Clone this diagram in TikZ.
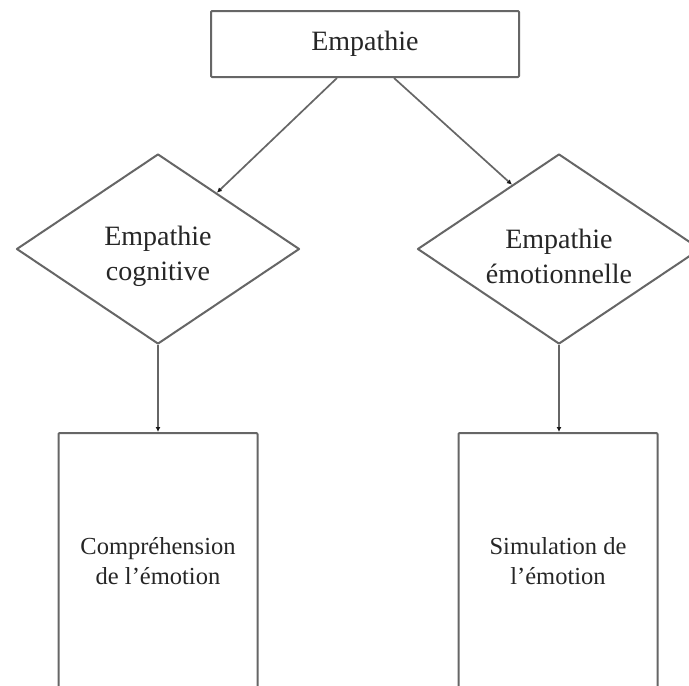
\documentclass[tikz,border=0pt]{standalone}
\usepackage{fontspec}
\setmainfont{Liberation Serif}
\usetikzlibrary{shapes.geometric,arrows.meta,calc}
\begin{document}
\begin{tikzpicture}[x=1pt,y=-1pt,
  shapeline/.style={draw=black!60,line width=2pt,line join=round,fill=white,text=black!85},
  bigtext/.style={font=\fontsize{28}{35}\selectfont,align=center,text=black!85},
  smalltext/.style={font=\fontsize{24.5}{30}\selectfont,align=center},
  rectbox/.style={shapeline,rectangle,rounded corners=1pt,inner sep=0pt},
  diabox/.style={shapeline,diamond,aspect=1.5,inner sep=0pt,minimum width=283pt,minimum height=190pt},
  arr/.style={draw=black!60,line width=1.7pt,-{Latex[length=5pt,width=5pt,fill=black,color=black!90]}}]
\useasboundingbox (0,0) rectangle (689,686);
\clip (0,0) rectangle (689,686);
\fill[white] (0,0) rectangle (689,686);
\node[rectbox,bigtext,minimum width=308pt,minimum height=66pt] (top) at (365,44) {Empathie};
\node[diabox,label={[bigtext,yshift=-7pt]center:{Empathie\\cognitive}}] (dl) at (158,249) {};
\node[diabox,label={[bigtext,yshift=-7pt]center:{Empathie\\émotionnelle}}] (dr) at (559,249) {};
\node[rectbox,smalltext,minimum width=199pt,minimum height=256pt] (bl) at (158,561) {Compréhension\\de l’émotion};
\node[rectbox,smalltext,minimum width=199pt,minimum height=256pt] (br) at (558,561) {Simulation de\\l’émotion};
\draw[arr] ($(top.south west)+(127,0)$) -- (dl);
\draw[arr] ($(top.south west)+(184,0)$) -- ($(dr.west)!0.67!(dr.north)$);
\draw[arr] (dl.south) -- (dl.south |- bl.north);
\draw[arr] (dr.south) -- (dr.south |- br.north);
\end{tikzpicture}
\end{document}
